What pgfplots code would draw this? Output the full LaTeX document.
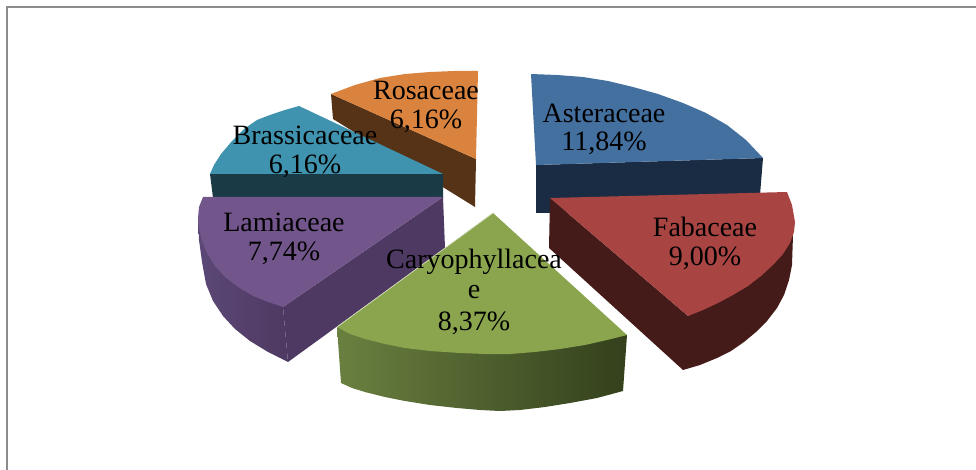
\documentclass[border=0pt]{standalone}
\usepackage{pgfplots}
\pgfplotsset{compat=1.18}
\usepackage{fontspec}
\setmainfont{Liberation Serif}
\definecolor{orT}{HTML}{D9833E}\definecolor{orS}{HTML}{563316}
\definecolor{teT}{HTML}{3F93AE}\definecolor{teS}{HTML}{1A3A46}
\definecolor{blT}{HTML}{44709F}\definecolor{blS}{HTML}{1A2C43}
\definecolor{puT}{HTML}{72558B}\definecolor{puS}{HTML}{4D3961}\definecolor{puL}{HTML}{5C4876}
\definecolor{grT}{HTML}{8AA54E}\definecolor{grL}{HTML}{6A8040}\definecolor{grR}{HTML}{33401C}
\definecolor{reT}{HTML}{A84543}\definecolor{reS}{HTML}{441B19}
\definecolor{frm}{HTML}{8C8C8C}
\begin{document}
\begin{tikzpicture}
\begin{axis}[hide axis,scale only axis,width=976pt,height=470pt,
  xmin=0,xmax=976,ymin=0,ymax=470,y dir=reverse,clip=true,anchor=south west,at={(0pt,0pt)}]
% frame
\addplot[frm,line width=2pt] coordinates {(7,470)(7,7)(976,7)};
% Rosaceae
\addplot[fill=orS,draw=none] coordinates {(331,94)(333,119)(475,207)(476,159)} --cycle;
\addplot[fill=orT,draw=none] coordinates {(331,94)(355,85)(380,78)(405,74)(430,72)(454,71)(478,71)(476,159)} --cycle;
% Brassicaceae
\addplot[fill=teS,draw=none] coordinates {(210,174)(213,198)(443,198)(443,174)} --cycle;
\addplot[fill=teT,draw=none] coordinates {(299,106)(285,110)(270,115)(257,120)(244,129)(232,141)(221,154)(214,165)(210,174)(443,174)} --cycle;
% Asteraceae
\addplot[fill=blS,draw=none] coordinates {(536,165)(536,213)(560,213)(760,195)(763,158)} --cycle;
\addplot[fill=blT,draw=none] coordinates {(531,74)(557,75)(583,77)(608,81)(633,87)(658,94)(683,103)(706,113)(727,125)(746,140)(763,158)(536,165)} --cycle;
% Lamiaceae
\addplot[fill=puS,draw=none] coordinates {(443,197)(445,248)(288,362)(283,307)} --cycle;
\addplot[left color=puL,right color=puS,draw=none] coordinates {(198,218)(199,240)(202,262)(206,284)(213,301)(223,316)(235,329)(250,341)(268,352)(288,362)(283,307)} --cycle;
\addplot[fill=puT,draw=none] coordinates {(203,197)(443,197)(283,307)(268,302)(253,296)(238,287)(225,277)(215,266)(207,253)(202,241)(199,228)(198,218)(199,207)} --cycle;
% Caryophyllaceae
\addplot[left color=grL,right color=grR,draw=none] coordinates {(337,327)(341,383)(352,388)(365,392)(385,397)(405,401)(430,405)(457,408)(480,410)(500,411)(520,410)(545,407)(570,403)(597,398)(623,391)(627,335)} --cycle;
\addplot[fill=grT,draw=none] coordinates {(493,213)(627,335)(607,340)(585,345)(560,349)(535,352)(510,354)(485,354)(460,353)(430,351)(405,348)(385,344)(365,339)(350,334)(337,327)} --cycle;
\addplot[white!60!grT,line width=.7pt] coordinates {(337,327)(493,213)};
% Fabaceae
\addplot[fill=reS,draw=none] coordinates {(550,198)(549,248)(683,370)(700,365)(717,358)(731,351)(744,342)(756,332)(767,321)(777,308)(784,295)(789,280)(792,265)(793,235)(688,316)} --cycle;
\addplot[fill=reT,draw=none] coordinates {(550,198)(787,192)(792,205)(795,222)(794,232)(790,243)(783,254)(773,265)(761,276)(748,286)(733,295)(718,303)(703,310)(688,316)} --cycle;
% labels
\begin{scope}[every node/.style={font=\fontsize{28}{28}\selectfont,text=black,inner sep=0pt,anchor=center}]
\node at (axis cs:426,90) {Rosaceae};
\node at (axis cs:426,121) {6,16\%};
\node at (axis cs:305,135) {Brassicaceae};
\node at (axis cs:305,166) {6,16\%};
\node at (axis cs:604,113) {Asteraceae};
\node at (axis cs:604,143) {11,84\%};
\node at (axis cs:705,227) {Fabaceae};
\node at (axis cs:705,258) {9,00\%};
\node at (axis cs:284,222) {Lamiaceae};
\node at (axis cs:284,253) {7,74\%};
\node at (axis cs:474,262) {Caryophyllacea};
\node at (axis cs:474,292) {e};
\node at (axis cs:474,323) {8,37\%};
\end{scope}
\end{axis}
\pgfresetboundingbox
\path[use as bounding box] (0pt,0pt) rectangle (976pt,470pt);
\end{tikzpicture}
\end{document}
